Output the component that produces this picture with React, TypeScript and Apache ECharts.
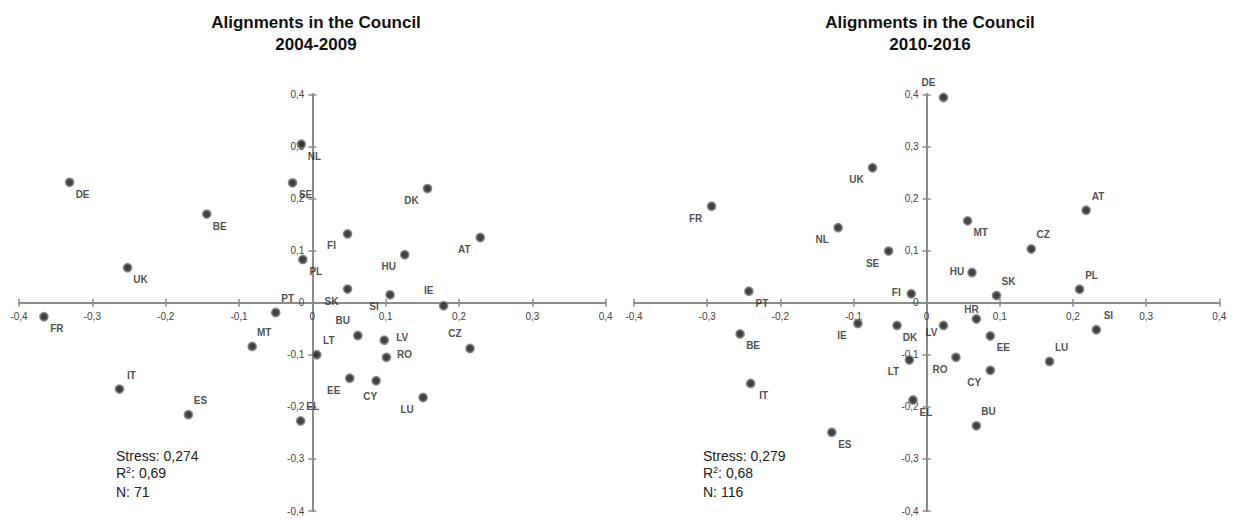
import React, { useEffect, useRef } from "react";
import * as echarts from "echarts";

// ---- Data: 2004-2009 ----
const countries1 = ["DE","NL","SE","BE","PL","UK","FR","PT","MT","IT","ES","EL","LT","BU","LV","RO","EE","CY","LU","CZ","IE","SI","SK","FI","HU","DK","AT"];
const dim1x = [-0.331,-0.015,-0.027,-0.144,-0.013,-0.252,-0.366,-0.050,-0.082,-0.263,-0.169,-0.016,0.006,0.062,0.098,0.101,0.051,0.087,0.151,0.215,0.179,0.106,0.048,0.048,0.126,0.157,0.229];
const dim1y = [0.231,0.304,0.230,0.170,0.083,0.067,-0.027,-0.019,-0.084,-0.166,-0.215,-0.227,-0.100,-0.063,-0.072,-0.105,-0.145,-0.150,-0.182,-0.088,-0.006,0.015,0.026,0.132,0.092,0.219,0.125];
const labelPos1 = ["br","br","br","br","br","br","br","tr","tr","tr","tr","tr","tr","tl","r","r","bl","b","bl","tl","tl","bl","bl","bl","bl","bl","bl"];

// ---- Data: 2010-2016 ----
const countries2 = ["DE","UK","FR","NL","SE","FI","PT","AT","MT","CZ","HU","PL","SK","HR","LV","SI","EE","RO","LU","CY","BU","IE","DK","BE","LT","IT","EL","ES"];
const dim2x = [0.023,-0.074,-0.294,-0.121,-0.052,-0.021,-0.243,0.218,0.056,0.143,0.062,0.209,0.0955,0.068,0.023,0.232,0.087,0.040,0.168,0.087,0.068,-0.094,-0.0405,-0.255,-0.0236,-0.2405,-0.0187,-0.1296];
const dim2y = [0.394,0.259,0.185,0.144,0.099,0.017,0.022,0.1775,0.157,0.103,0.058,0.0256,0.0135,-0.0315,-0.0437,-0.052,-0.064,-0.105,-0.113,-0.130,-0.2365,-0.040,-0.0437,-0.060,-0.110,-0.155,-0.187,-0.249];
const labelPos2 = ["tl","bl","bl","bl","bl","l","br","tr","br","tr","l","tr","tr","t","lb","tr","br","bl","tr","bl","tr","bl","br","br","bl","br","br","br"];

const titles = ["Alignments in the Council\n2004-2009", "Alignments in the Council\n2010-2016"];
const stress = ["0,274", "0,279"];
const rSquared = ["0,69", "0,68"];
const nObs = ["71", "116"];

const FONT = 'Arial, "Liberation Sans", Helvetica, sans-serif';

const OFFSETS: Record<string, number[]> = {
  br: [13, 12], bl: [-16, 12], tr: [12, -14], tl: [-15, -15],
  r: [18, -3], l: [-15, -1], t: [-5, -10], b: [-6, 16], lb: [-12, 7],
};

const fmt = (v: number) => (Math.abs(v) < 1e-9 ? "0" : v.toFixed(1).replace(".", ","));

function buildData(names: string[], xs: number[], ys: number[], pos: string[]) {
  return names.map((n, i) => ({
    name: n,
    value: [xs[i], ys[i]],
    label: { offset: OFFSETS[pos[i]] },
  }));
}

export default function App() {
  const ref = useRef<HTMLDivElement>(null);
  useEffect(() => {
    if (!ref.current) return;
    const chart = echarts.init(ref.current, null, { renderer: "svg" });
    const axisColor = "#8c8c8c";
    const grids = [
      { left: 19, top: 94.3, width: 586.7, height: 416.7 },
      { left: 634, top: 94.3, width: 585.3, height: 416.7 },
    ];
    const mkX = (gi: number, main: boolean) => ({
      type: "value", gridIndex: gi, min: -0.4, max: 0.4, interval: 0.1,
      position: main ? "bottom" : "top",
      offset: -grids[gi].height / 2,
      axisLine: { onZero: false, lineStyle: { color: axisColor, width: 2 } },
      axisTick: { show: true, length: 4, lineStyle: { color: axisColor, width: 1.5 } },
      axisLabel: { show: main, formatter: fmt, color: "#444", fontSize: 10, fontFamily: FONT, margin: 9 },
      splitLine: { show: false },
    });
    const mkY = (gi: number, main: boolean) => ({
      type: "value", gridIndex: gi, min: -0.4, max: 0.4, interval: 0.1,
      position: main ? "left" : "right",
      offset: -grids[gi].width / 2,
      axisLine: { onZero: false, lineStyle: { color: axisColor, width: 2 } },
      axisTick: { show: true, length: 4, lineStyle: { color: axisColor, width: 1.5 } },
      axisLabel: { show: main, formatter: fmt, color: "#444", fontSize: 10, fontFamily: FONT, margin: 8 },
      splitLine: { show: false },
    });
    const seriesBase = {
      type: "scatter",
      symbol: "circle",
      symbolSize: 8,
      itemStyle: { color: "#111", borderColor: "#777", borderWidth: 1.8 },
      label: {
        show: true, position: "inside", formatter: "{b}",
        color: "#222", fontSize: 10, fontWeight: "bold", fontFamily: FONT,
        align: "center", verticalAlign: "middle",
      },
      emphasis: { disabled: true },
      z: 5,
    };
    const statText = (i: number, x: number) => [
      { type: "text", left: x, top: 449, style: { text: "Stress: " + stress[i], fontSize: 14, fontFamily: FONT, fill: "#222" } },
      {
        type: "text", left: x, top: 465,
        style: {
          text: "R{sup|2}: " + rSquared[i],
          fontSize: 14, fontFamily: FONT, fill: "#222",
          rich: { sup: { fontSize: 9, fontFamily: FONT, fill: "#222", verticalAlign: "top", padding: [0, 0, 6, 0] } },
        },
      },
      { type: "text", left: x, top: 485, style: { text: "N: " + nObs[i], fontSize: 14, fontFamily: FONT, fill: "#222" } },
    ];
    const titleStyle = { fontSize: 17, fontWeight: "bold", fontFamily: FONT, color: "#111", lineHeight: 22 };
    chart.setOption({
      animation: false,
      title: [
        { text: titles[0], left: 311, top: 6, textAlign: "center", textStyle: titleStyle },
        { text: titles[1], left: 925, top: 6, textAlign: "center", textStyle: titleStyle },
      ],
      grid: grids,
      xAxis: [mkX(0, true), mkX(0, false), mkX(1, true), mkX(1, false)],
      yAxis: [mkY(0, true), mkY(0, false), mkY(1, true), mkY(1, false)],
      series: [
        { ...seriesBase, xAxisIndex: 0, yAxisIndex: 0, data: buildData(countries1, dim1x, dim1y, labelPos1) },
        { ...seriesBase, xAxisIndex: 2, yAxisIndex: 2, data: buildData(countries2, dim2x, dim2y, labelPos2) },
      ],
      graphic: [...statText(0, 116), ...statText(1, 703)],
    });
    return () => chart.dispose();
  }, []);
  return (
    <div
      ref={ref}
      style={{ position: "absolute", left: 0, top: 0, width: 1236, height: 521, background: "#fff" }}
    />
  );
}
